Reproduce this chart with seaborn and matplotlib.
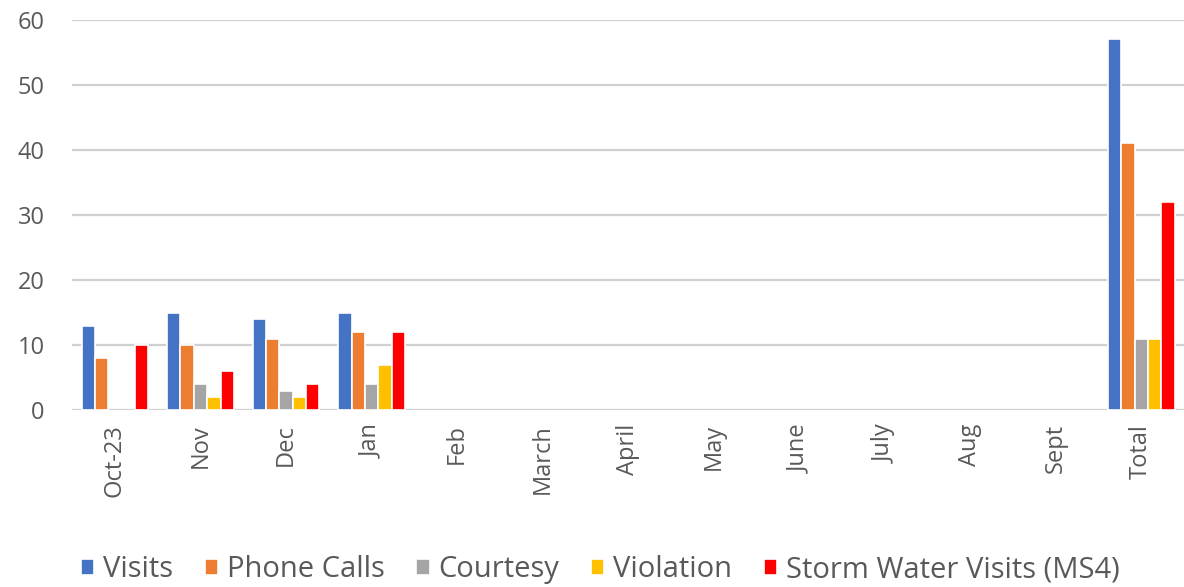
import numpy as np
import pandas as pd
import matplotlib.pyplot as plt
import seaborn as sns

months = ["Oct-23", "Nov", "Dec", "Jan", "Feb", "March", "April", "May",
          "June", "July", "Aug", "Sept", "Total"]
nan = np.nan
visits = [13, 15, 14, 15, nan, nan, nan, nan, nan, nan, nan, nan, 57]
phone_calls = [8, 10, 11, 12, nan, nan, nan, nan, nan, nan, nan, nan, 41]
courtesy = [nan, 4, 3, 4, nan, nan, nan, nan, nan, nan, nan, nan, 11]
violation = [nan, 2, 2, 7, nan, nan, nan, nan, nan, nan, nan, nan, 11]
storm_water = [10, 6, 4, 12, nan, nan, nan, nan, nan, nan, nan, nan, 32]

series = {
    "Visits": visits,
    "Phone Calls": phone_calls,
    "Courtesy": courtesy,
    "Violation": violation,
    "Storm Water Visits (MS4)": storm_water,
}
colors = ["#4472C4", "#ED7D31", "#A5A5A5", "#FFC000", "#FF0000"]

rows = []
for name, vals in series.items():
    for m, v in zip(months, vals):
        rows.append({"month": m, "series": name, "value": v})
df = pd.DataFrame(rows)

sns.set_style("white")
plt.rcParams["font.family"] = ["Open Sans", "DejaVu Sans"]
text_color = "#595959"

fig = plt.figure(figsize=(11.84, 5.87), dpi=100)
ax = fig.add_axes([0.061, 0.3015, 0.939, 0.6645])

sns.barplot(data=df, x="month", y="value", hue="series", order=months,
            hue_order=list(series.keys()), palette=colors, saturation=1,
            width=0.78, errorbar=None, edgecolor="white", linewidth=1.2,
            ax=ax, zorder=3)

ax.set_ylim(0, 60)
ax.set_yticks(range(0, 61, 10))
ax.set_xlim(-0.5, len(months) - 0.5)
ax.yaxis.grid(True, color="#d0d0d0", linewidth=1.6, zorder=0)
ax.set_axisbelow(True)
for s in ax.spines.values():
    s.set_visible(False)
ax.set_xlabel("")
ax.set_ylabel("")
ax.tick_params(axis="both", length=0, labelsize=17, colors=text_color)
ax.tick_params(axis="y", pad=20)
ax.tick_params(axis="x", pad=10)
plt.setp(ax.get_xticklabels(), rotation=90)

ax.legend(loc="center", bbox_to_anchor=(0.475, -0.41), ncol=5, frameon=False,
          fontsize=21, labelcolor=text_color, handlelength=0.45,
          handleheight=0.5, handletextpad=0.3, columnspacing=1.1)

fig.savefig("out.png", dpi=100)
